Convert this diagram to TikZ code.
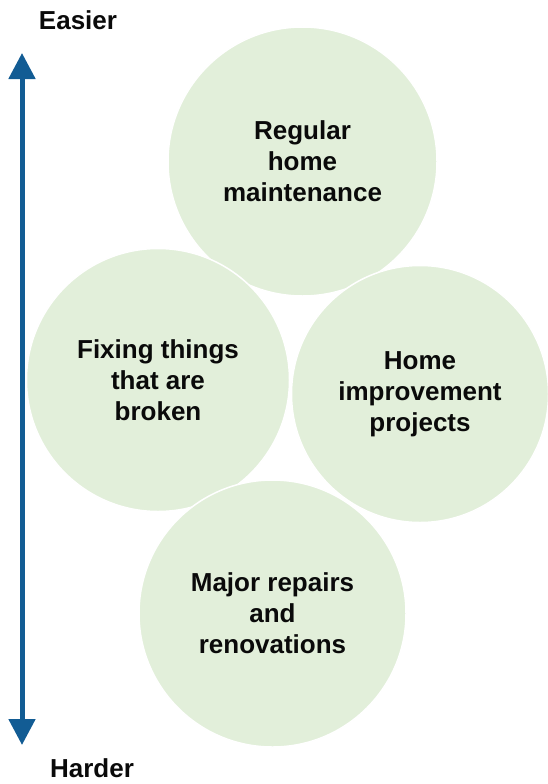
\documentclass[tikz,border=0pt]{standalone}
\usepackage{fontspec}
\setmainfont{Liberation Sans}
\usetikzlibrary{arrows.meta}
\definecolor{bubble}{HTML}{E2EFDA}
\definecolor{axisblue}{HTML}{125C94}
\definecolor{txt}{HTML}{0A0A0A}
\tikzset{
  bubble/.style={circle, fill=bubble, draw=white, line width=1.5bp, inner sep=0pt, align=center,
    text=txt, font=\fontsize{26bp}{31bp}\selectfont\bfseries},
  axislabel/.style={text=txt, font=\fontsize{26bp}{31bp}\selectfont\bfseries, inner sep=0pt},
  axis/.style={draw=axisblue, line width=5bp, {Triangle[width=26bp,length=26bp]}-{Triangle[width=26bp,length=26bp]}}
}
\begin{document}
\begin{tikzpicture}[x=1bp,y=-1bp]
\useasboundingbox (0,0) rectangle (548,784);
\node[bubble, minimum size=269bp] (reg) at (302.5,161.5) {Regular\\home\\maintenance};
\node[bubble, minimum size=263bp] (fix) at (158,380) {Fixing things\\that are\\broken};
\node[bubble, minimum size=257bp] (imp) at (420,394) {Home\\improvement\\projects};
\node[bubble, minimum size=267bp] (maj) at (272.5,613.5) {Major repairs\\and\\renovations};
\node[axislabel] (easy) at (78,20) {Easier};
\node[axislabel] (hard) at (92,768) {Harder};
\coordinate (top) at (22,53);
\coordinate (bot) at (22,745);
\draw[axis] (top) -- (bot);
\end{tikzpicture}
\end{document}
